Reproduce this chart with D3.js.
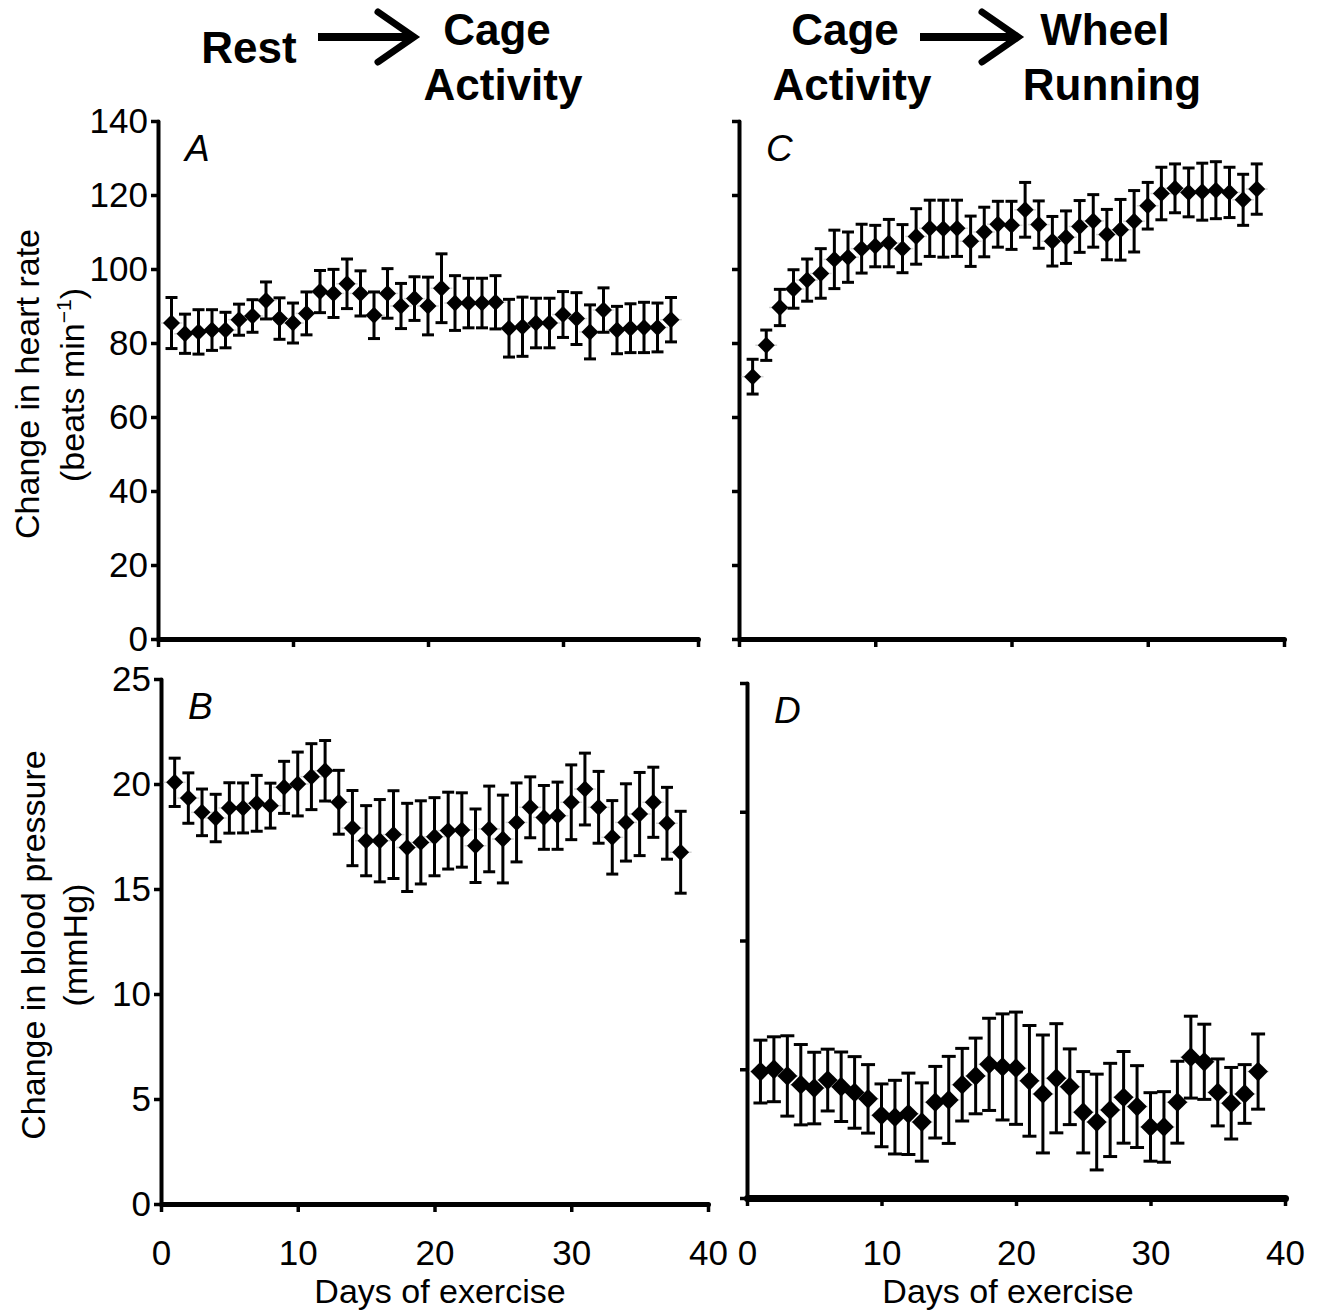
<!DOCTYPE html>
<html>
<head>
<meta charset="utf-8">
<script src="https://cdn.jsdelivr.net/npm/d3@7"></script>
<style>
  body { margin: 0; background: #fff; }
  text { font-family: "Liberation Sans", Arial, sans-serif; fill: #000; }
</style>
</head>
<body>
<div id="chart"></div>
<script>
// days of exercise, same for every panel
var days = [1, 2, 3, 4, 5, 6, 7, 8, 9, 10, 11, 12, 13, 14, 15, 16, 17, 18, 19,
  20, 21, 22, 23, 24, 25, 26, 27, 28, 29, 30, 31, 32, 33, 34, 35, 36, 37, 38];

// A: heart rate, rest -> cage activity
var hrCageMean = [85.4, 82.5, 83.0, 83.5, 83.5, 86.3, 87.3, 91.5, 86.6, 85.4, 88.0, 93.9, 93.4,
  96.0, 93.4, 87.5, 93.4, 90.0, 92.0, 90.0, 94.8, 90.8, 90.8, 90.8, 91.0, 84.0, 84.4, 85.4,
  85.4, 87.7, 86.6, 83.0, 88.9, 83.5, 84.0, 84.2, 84.2, 86.3];
var hrCageSem = [6.9, 5.3, 6.0, 5.5, 4.8, 4.2, 4.4, 5.0, 5.6, 5.4, 5.8, 5.7, 6.5, 6.7, 6.1,
  6.3, 6.7, 6.1, 5.9, 7.8, 9.3, 7.4, 6.7, 6.7, 7.2, 7.8, 8.0, 6.7, 6.7, 6.2, 7.0, 7.3, 6.0,
  6.4, 6.6, 6.8, 6.6, 6.0];

// B: blood pressure, rest -> cage activity
var bpCageMean = [20.08, 19.33, 18.65, 18.38, 18.86, 18.86, 19.08, 18.97, 19.84, 20.0, 20.35,
  20.63, 19.13, 17.9, 17.3, 17.3, 17.59, 16.98, 17.22, 17.49, 17.78, 17.81, 17.06, 17.86,
  17.38, 18.17, 18.89, 18.41, 18.49, 19.13, 19.76, 18.89, 17.46, 18.17, 18.57, 19.13, 18.13,
  16.75];
var bpCageSem = [1.15, 1.2, 1.11, 1.13, 1.2, 1.19, 1.33, 1.07, 1.24, 1.52, 1.57, 1.44, 1.52,
  1.79, 1.67, 1.96, 2.09, 2.1, 1.98, 1.86, 1.83, 1.77, 1.75, 2.04, 2.09, 1.88, 1.45, 1.52,
  1.6, 1.78, 1.71, 1.71, 1.75, 1.84, 1.98, 1.67, 1.71, 1.95];

// C: heart rate, cage activity -> wheel running
var hrWheelMean = [70.9, 79.4, 89.6, 94.6, 97.0, 98.8, 102.6, 103.2, 105.5, 106.2, 107.0,
  105.5, 108.8, 111.0, 110.9, 111.0, 107.5, 110.0, 112.1, 111.8, 116.0, 112.0, 107.5, 108.6,
  111.5, 113.0, 109.3, 110.6, 112.9, 117.1, 120.4, 121.8, 120.7, 120.9, 121.3, 120.7, 118.7,
  121.6];
var hrWheelSem = [4.7, 4.1, 4.9, 5.2, 5.7, 6.7, 7.9, 6.8, 6.6, 5.6, 6.4, 6.5, 7.5, 7.6, 7.7,
  7.6, 6.8, 6.7, 6.2, 6.5, 7.4, 6.4, 6.7, 7.1, 7.0, 7.1, 6.8, 8.2, 8.3, 6.3, 7.1, 6.6, 6.6,
  7.7, 7.7, 6.8, 6.9, 6.8];

// D: blood pressure, cage activity -> wheel running
var bpWheelMean = [4.91, 5.0, 4.74, 4.4, 4.27, 4.58, 4.32, 4.1, 3.85, 3.21, 3.14, 3.27, 2.95,
  3.72, 3.81, 4.4, 4.74, 5.19, 5.09, 5.04, 4.55, 4.04, 4.65, 4.32, 3.33, 2.95, 3.42, 3.91,
  3.55, 2.76, 2.76, 3.72, 5.47, 5.29, 4.1, 3.68, 4.04, 4.91];
var bpWheelSem = [1.22, 1.26, 1.56, 1.56, 1.39, 1.2, 1.35, 1.39, 1.33, 1.22, 1.43, 1.58, 1.52,
  1.39, 1.69, 1.41, 1.47, 1.79, 2.06, 2.18, 2.15, 2.29, 2.12, 1.47, 1.58, 1.86, 1.81, 1.78,
  1.59, 1.33, 1.37, 1.59, 1.59, 1.46, 1.3, 1.39, 1.14, 1.46];

var xTicks = [0, 10, 20, 30, 40];
var hrTicks = [0, 20, 40, 60, 80, 100, 120, 140];
var bpTicks = [0, 5, 10, 15, 20, 25];
var bpWheelTicks = [0, 5, 10, 15, 20];

var width = 1326;
var height = 1314;
var svg = d3.select("#chart").append("svg")
  .attr("width", width)
  .attr("height", height);

var panels = [
  { letter: "A", mean: hrCageMean, sem: hrCageSem, xr: [158, 698], yd: [0, 140], yr: [639, 121],
    yTicks: hrTicks, yLabels: true, xLabels: false, mark: 12, cap: 6, xw: 5, pad: 28 },
  { letter: "B", mean: bpCageMean, sem: bpCageSem, xr: [161, 708], yd: [0, 25], yr: [1204, 679],
    yTicks: bpTicks, yLabels: true, xLabels: true, mark: 12, cap: 6, xw: 5, pad: 28 },
  { letter: "C", mean: hrWheelMean, sem: hrWheelSem, xr: [739, 1284], yd: [0, 140], yr: [639, 121],
    yTicks: hrTicks, yLabels: false, xLabels: false, mark: 12, cap: 6, xw: 5, pad: 28 },
  { letter: "D", mean: bpWheelMean, sem: bpWheelSem, xr: [747, 1285], yd: [0, 20], yr: [1198, 683],
    yTicks: bpWheelTicks, yLabels: false, xLabels: true, mark: 14, cap: 7, xw: 7, pad: 34 },
];

panels.forEach(function (p) {
  var x = d3.scaleLinear().domain([0, 40]).range(p.xr);
  var y = d3.scaleLinear().domain(p.yd).range(p.yr);
  var g = svg.append("g");

  var yAxis = d3.axisLeft(y).tickValues(p.yTicks).tickSize(7).tickSizeOuter(0).tickPadding(3);
  if (!p.yLabels) yAxis.tickFormat("");
  var ya = g.append("g").attr("transform", "translate(" + p.xr[0] + ",0)").call(yAxis);
  ya.select(".domain").attr("stroke-width", 4).attr("stroke-linecap", "round");
  ya.selectAll(".tick line").attr("stroke-width", 3.5);
  ya.selectAll(".tick text").style("font-size", "35px").attr("fill", "#000");

  var xAxis = d3.axisBottom(x).tickValues(xTicks).tickSize(8).tickSizeOuter(0).tickPadding(p.pad);
  if (!p.xLabels) xAxis.tickFormat("");
  var xa = g.append("g").attr("transform", "translate(0," + p.yr[0] + ")").call(xAxis);
  xa.select(".domain").attr("stroke-width", p.xw).attr("stroke-linecap", "round");
  xa.selectAll(".tick line").attr("stroke-width", 3.5);
  xa.selectAll(".tick text").style("font-size", "35px").attr("fill", "#000");

  g.append("text")
    .attr("x", x(0) + 27)
    .attr("y", y.range()[1] + 40)
    .style("font-size", "37px")
    .style("font-style", "italic")
    .text(p.letter);

  // faint horizontal error bars
  g.selectAll(".xerr").data(days).enter().append("line")
    .attr("x1", function (d) { return x(d - 0.8); })
    .attr("x2", function (d) { return x(d + 0.8); })
    .attr("y1", function (d, i) { return y(p.mean[i]); })
    .attr("y2", function (d, i) { return y(p.mean[i]); })
    .attr("stroke", "#d4d4d4")
    .attr("stroke-width", 1.5);

  var bars = g.selectAll(".err").data(days).enter().append("g");
  bars.append("line")
    .attr("x1", function (d) { return x(d); })
    .attr("x2", function (d) { return x(d); })
    .attr("y1", function (d, i) { return y(p.mean[i] - p.sem[i]); })
    .attr("y2", function (d, i) { return y(p.mean[i] + p.sem[i]); })
    .attr("stroke", "#000").attr("stroke-width", 3);
  [-1, 1].forEach(function (s) {
    bars.append("line")
      .attr("x1", function (d) { return x(d) - p.cap; })
      .attr("x2", function (d) { return x(d) + p.cap; })
      .attr("y1", function (d, i) { return y(p.mean[i] + s * p.sem[i]); })
      .attr("y2", function (d, i) { return y(p.mean[i] + s * p.sem[i]); })
      .attr("stroke", "#000").attr("stroke-width", 3);
  });

  var sym = d3.symbol().type(d3.symbolSquare).size(p.mark * p.mark);
  g.selectAll(".pt").data(days).enter().append("path")
    .attr("d", sym)
    .attr("transform", function (d, i) {
      return "translate(" + x(d) + "," + y(p.mean[i]) + ") rotate(45)";
    })
    .attr("fill", "#000");
});

// axis titles
svg.append("text").attr("transform", "translate(39,384) rotate(-90)")
  .attr("text-anchor", "middle").style("font-size", "34px").text("Change in heart rate");
var hr2 = svg.append("text").attr("transform", "translate(84,385) rotate(-90)")
  .attr("text-anchor", "middle").style("font-size", "34px");
hr2.append("tspan").text("(beats min");
hr2.append("tspan").attr("dy", -13).style("font-size", "21px").text("\u22121");
hr2.append("tspan").attr("dy", 13).text(")");

svg.append("text").attr("transform", "translate(45,945) rotate(-90)")
  .attr("text-anchor", "middle").style("font-size", "34px").text("Change in blood pressure");
svg.append("text").attr("transform", "translate(87,945) rotate(-90)")
  .attr("text-anchor", "middle").style("font-size", "34px").text("(mmHg)");

svg.append("text").attr("x", 440).attr("y", 1303)
  .attr("text-anchor", "middle").style("font-size", "34px").text("Days of exercise");
svg.append("text").attr("x", 1008).attr("y", 1303)
  .attr("text-anchor", "middle").style("font-size", "34px").text("Days of exercise");

// headers
var headers = [
  { t: "Rest", x: 249, y: 63 },
  { t: "Cage", x: 497, y: 45 },
  { t: "Activity", x: 503, y: 100 },
  { t: "Cage", x: 845, y: 45 },
  { t: "Activity", x: 852, y: 100 },
  { t: "Wheel", x: 1105, y: 45 },
  { t: "Running", x: 1112, y: 100 },
];
svg.selectAll(".hdr").data(headers).enter().append("text")
  .attr("x", function (d) { return d.x; })
  .attr("y", function (d) { return d.y; })
  .attr("text-anchor", "middle")
  .style("font-size", "44px")
  .style("font-weight", "bold")
  .text(function (d) { return d.t; });

[[318, 414], [920, 1018]].forEach(function (a) {
  svg.append("line").attr("x1", a[0]).attr("x2", a[1] - 4).attr("y1", 37).attr("y2", 37)
    .attr("stroke", "#000").attr("stroke-width", 8);
  svg.append("path")
    .attr("d", "M" + (a[1] - 36) + ",12 L" + a[1] + ",37 L" + (a[1] - 36) + ",62")
    .attr("fill", "none").attr("stroke", "#000").attr("stroke-width", 7)
    .attr("stroke-linecap", "round");
});
</script>
</body>
</html>
